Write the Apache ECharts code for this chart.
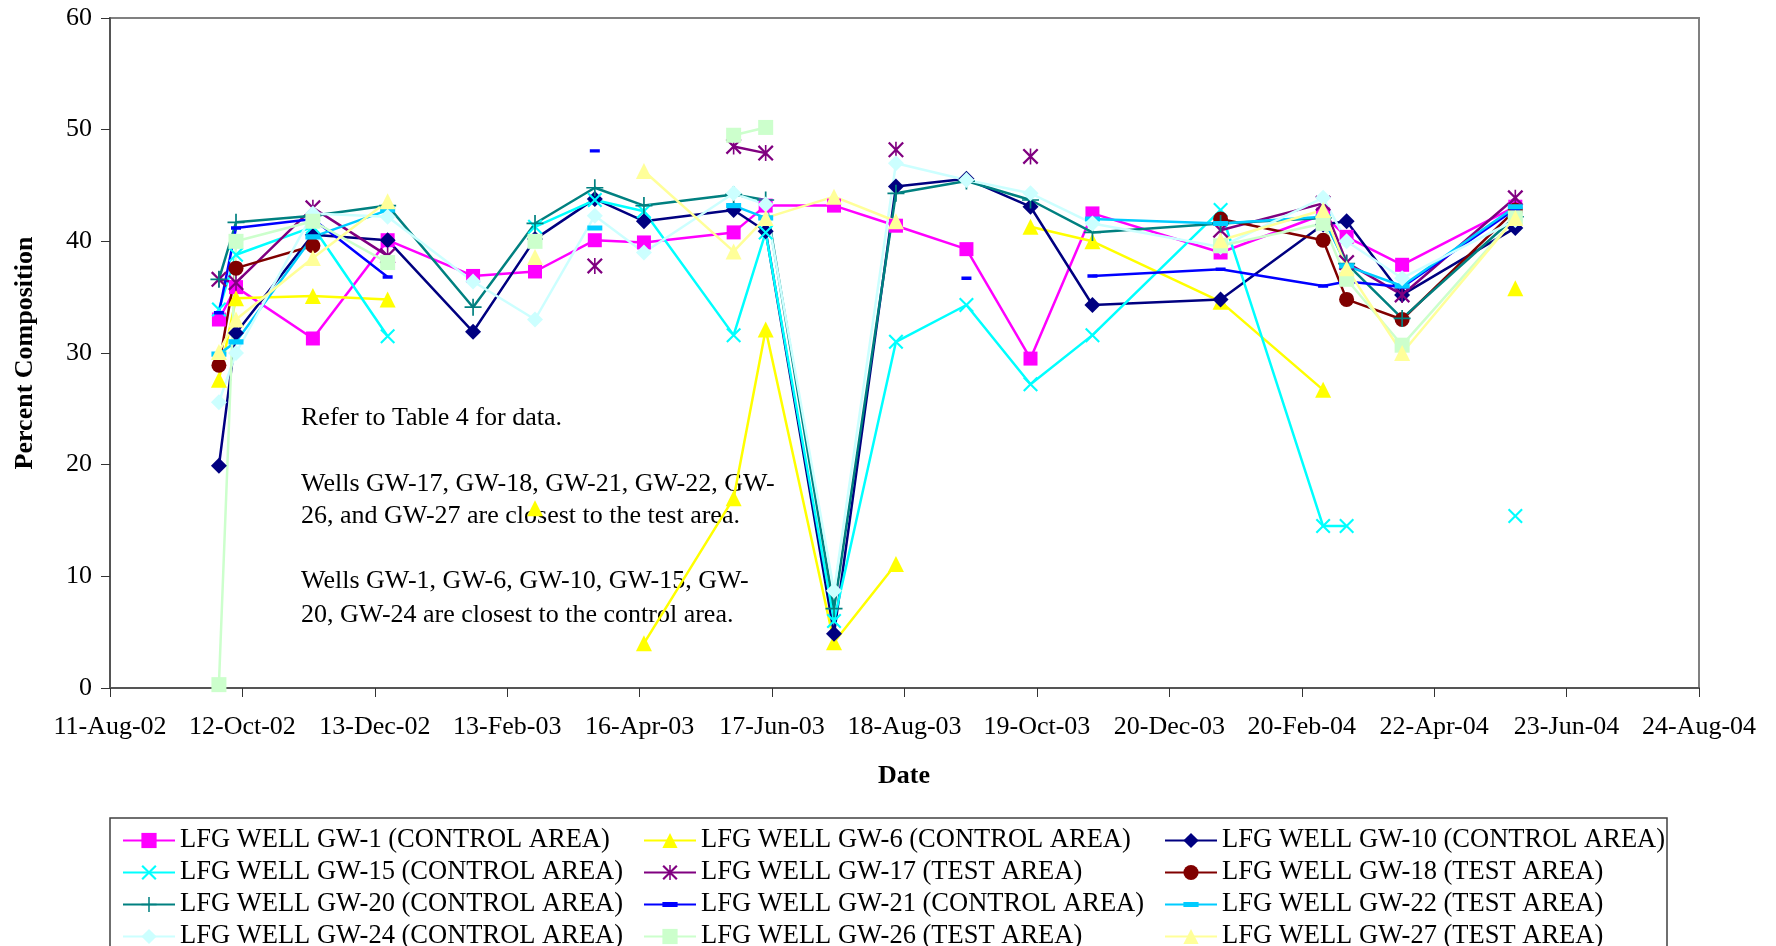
<!DOCTYPE html>
<html>
<head>
<meta charset="utf-8">
<title>LFG wells - percent composition</title>
<script src="https://cdn.jsdelivr.net/npm/echarts@6/dist/echarts.min.js"></script>
<style>
  html, body { margin: 0; padding: 0; background: #fff; }
  #chart { width: 1776px; height: 946px; }
</style>
</head>
<body>
<div id="chart"></div>
<script>
// sampling dates, axis ticks and readings (percent composition), null = no reading
const axisStart = "2002-08-11";
const tickDays = 62;
const xTickLabels = ["11-Aug-02", "12-Oct-02", "13-Dec-02", "13-Feb-03", "16-Apr-03", "17-Jun-03",
  "18-Aug-03", "19-Oct-03", "20-Dec-03", "20-Feb-04", "22-Apr-04", "23-Jun-04", "24-Aug-04"];
const sampleDates = ["2002-10-01", "2002-10-09", "2002-11-14", "2002-12-19", "2003-01-28",
  "2003-02-26", "2003-03-26", "2003-04-18", "2003-05-30", "2003-06-14", "2003-07-16",
  "2003-08-14", "2003-09-16", "2003-10-16", "2003-11-14", "2004-01-13", "2004-03-01",
  "2004-03-12", "2004-04-07", "2004-05-30"];

const gw1  = [33.0, 35.9, 31.3, 40.1, 36.9, 37.3, 40.1, 39.9, 40.8, 43.2, 43.2, 41.4, 39.3, 29.5, 42.5, 39.0, 42.4, 40.4, 37.9, 43.1];
const gw6  = [27.6, 34.9, 35.1, 34.8, null, 16.1, null, 4.0, 17.0, 32.1, 4.1, 11.1, null, 41.3, 40.0, 34.6, 26.7, null, null, 35.8];
const gw10 = [19.9, 31.8, 40.6, 40.1, 31.9, 40.2, 43.8, 41.8, 42.8, 40.9, 4.85, 44.9, 45.6, 43.1, 34.3, 34.8, 41.5, 41.8, 35.2, 41.2];
const gw15 = [33.9, 38.8, 41.3, 31.5, null, 41.3, 43.7, 42.7, 31.6, 40.8, 6.0, 31.0, 34.3, 27.2, 31.6, 42.8, 14.5, 14.5, null, 15.4];
const gw17 = [36.6, 36.3, 43.0, 38.7, null, null, 37.8, null, 48.5, 47.9, null, 48.2, null, 47.6, null, 41.0, 43.4, 38.1, 35.2, 43.9];
const gw18 = [28.9, 37.6, 39.6, null, null, null, null, null, null, null, null, null, null, null, null, 42.0, 40.1, 34.8, 33.0, 42.8];
const gw20 = [36.6, 41.7, 42.3, 43.2, 34.1, 41.6, 44.8, 43.2, 44.2, 43.7, 7.1, 44.3, 45.4, 43.7, 40.8, 41.6, 42.1, 38.0, 33.1, 42.2];
const gw21 = [33.6, 41.2, 42.0, 36.8, null, null, 48.1, null, null, null, null, null, 36.7, null, 36.9, 37.5, 36.0, 36.4, 35.9, 42.9];
const gw22 = [29.9, 31.0, 40.4, 42.8, null, null, 41.2, null, 43.2, 42.1, null, null, null, null, 42.0, 41.6, 42.2, 37.8, 36.0, 43.1];
const gw24 = [25.6, 30.0, 42.5, 42.2, 36.4, 33.0, 42.3, 39.0, 44.3, 43.3, 8.7, 47.0, 45.5, 44.3, 41.6, 39.5, 43.9, 40.0, 36.7, 41.9];
const gw26 = [0.3, 40.0, 41.8, 38.1, null, 40.0, null, null, 49.5, 50.2, null, null, null, null, null, 39.6, 41.6, 36.6, 30.7, 42.1];
const gw27 = [30.1, 33.0, 38.5, 43.6, null, 38.6, null, 46.3, 39.1, 42.1, 44.0, 41.8, null, null, null, 40.1, 42.8, 37.6, 30.0, 42.1];

const notes = [
  "Refer to Table 4 for data.",
  "Wells GW-17, GW-18, GW-21, GW-22, GW-",
  "26, and GW-27 are closest to the test area.",
  "Wells GW-1, GW-6, GW-10, GW-15, GW-",
  "20, GW-24 are closest to the control area."
];

const FONT = "'Liberation Serif', 'Times New Roman', serif";
const DAY = 86400000;
const t0 = Date.parse(axisStart + "T00:00:00Z");
const sampleDays = sampleDates.map(s => Math.round((Date.parse(s + "T00:00:00Z") - t0) / DAY));

// marker shapes Excel uses that echarts lacks
const X_PATH = "path://M0,10L10,0L50,40L90,0L100,10L60,50L100,90L90,100L50,60L10,100L0,90L40,50Z";
const PLUS_PATH = "path://M45,0L55,0L55,45L100,45L100,55L55,55L55,100L45,100L45,55L0,55L0,45L45,45Z";
const STAR_PATH = X_PATH + "M45,0L55,0L55,100L45,100Z";
// dash: the empty corner points keep the bounding box square so it stays flat
const DASH_PATH = "path://M0,0L0.01,0ZM0,33L100,33L100,67L0,67ZM100,100L99.99,100Z";

function well(name, vals, color, symbol, size) {
  return {
    name: name,
    type: "line",
    data: sampleDays.map((d, i) => [d, vals[i] == null ? "-" : vals[i]]),
    symbol: symbol,
    symbolSize: size,
    showAllSymbol: true,
    connectNulls: false,
    lineStyle: { color: color, width: 2.5 },
    itemStyle: { color: color, borderWidth: 0 },
    emphasis: { disabled: true }
  };
}

const series = [
  well("LFG WELL GW-1 (CONTROL AREA)", gw1, "#FF00FF", "rect", 14),
  well("LFG WELL GW-6 (CONTROL AREA)", gw6, "#FFFF00", "triangle", 16),
  well("LFG WELL GW-10 (CONTROL AREA)", gw10, "#000080", "diamond", 16),
  well("LFG WELL GW-15 (CONTROL AREA)", gw15, "#00FFFF", X_PATH, 15),
  well("LFG WELL GW-17 (TEST AREA)", gw17, "#800080", STAR_PATH, 16),
  well("LFG WELL GW-18 (TEST AREA)", gw18, "#800000", "circle", 15),
  well("LFG WELL GW-20 (CONTROL AREA)", gw20, "#008080", PLUS_PATH, 17),
  well("LFG WELL GW-21 (CONTROL AREA)", gw21, "#0000FF", DASH_PATH, 10),
  well("LFG WELL GW-22 (TEST AREA)", gw22, "#00CCFF", DASH_PATH, 15),
  well("LFG WELL GW-24 (CONTROL AREA)", gw24, "#CCFFFF", "diamond", 16),
  well("LFG WELL GW-26 (TEST AREA)", gw26, "#CCFFCC", "rect", 15),
  well("LFG WELL GW-27 (TEST AREA)", gw27, "#FFFF99", "triangle", 16)
];

function legendCol(idx, left) {
  return {
    data: idx.map(i => series[i].name),
    orient: "vertical",
    left: left,
    top: 827,
    height: 200,
    padding: 0,
    itemWidth: 52,
    itemHeight: 19,
    itemGap: 5,
    selectedMode: false,
    textStyle: { fontFamily: FONT, fontSize: 26.5, color: "#000", lineHeight: 26 }
  };
}

const chart = echarts.init(document.getElementById("chart"));
chart.setOption({
  animation: false,
  backgroundColor: "#fff",
  grid: {
    left: 110, top: 18, width: 1589, height: 670,
    show: true, borderColor: "#808080", borderWidth: 2
  },
  xAxis: {
    type: "value",
    min: 0,
    max: tickDays * (xTickLabels.length - 1),
    interval: tickDays,
    axisLine: { onZero: false, lineStyle: { color: "#555", width: 2 } },
    axisTick: { show: true, length: 9, lineStyle: { color: "#333" } },
    splitLine: { show: false },
    axisLabel: {
      margin: 26,
      fontFamily: FONT, fontSize: 26, color: "#000",
      formatter: v => xTickLabels[Math.round(v / tickDays)]
    }
  },
  yAxis: {
    type: "value",
    min: 0, max: 60, interval: 10,
    axisLine: { show: true, lineStyle: { color: "#555", width: 2 } },
    axisTick: { show: true, length: 9, lineStyle: { color: "#333" } },
    splitLine: { show: false },
    axisLabel: { margin: 18, fontFamily: FONT, fontSize: 26, color: "#000" }
  },
  legend: [
    legendCol([0, 3, 6, 9], 122),
    legendCol([1, 4, 7, 10], 643),
    legendCol([2, 5, 8, 11], 1164)
  ],
  graphic: [
    {
      type: "rect", silent: true, z: -1,
      shape: { x: 110, y: 818, width: 1557, height: 140 },
      style: { fill: "#fff", stroke: "#404040", lineWidth: 1.5 }
    },
    {
      type: "text", x: 25, y: 353, rotation: Math.PI / 2,
      style: { text: "Percent Composition", font: "bold 26px " + FONT, fill: "#000",
        textAlign: "center", textVerticalAlign: "middle" }
    },
    {
      type: "text", x: 904, y: 776,
      style: { text: "Date", font: "bold 26px " + FONT, fill: "#000",
        textAlign: "center", textVerticalAlign: "middle" }
    }
  ].concat(notes.map((t, i) => ({
    type: "text", x: 301, y: [418, 484, 516, 581, 615][i],
    style: { text: t, font: "26px " + FONT, fill: "#000", textAlign: "left", textVerticalAlign: "middle" }
  }))),
  series: series
});
</script>
</body>
</html>
